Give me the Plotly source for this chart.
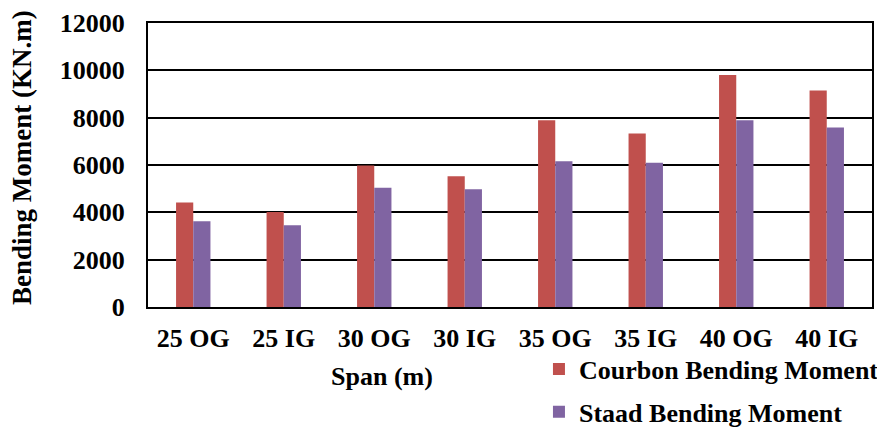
import plotly.graph_objects as go

categories = ["25 OG", "25 IG", "30 OG", "30 IG", "35 OG", "35 IG", "40 OG", "40 IG"]
courbon = [4420, 4010, 5980, 5520, 7890, 7330, 9800, 9150]
staad = [3620, 3450, 5040, 4980, 6160, 6090, 7890, 7580]
yticks = [0, 2000, 4000, 6000, 8000, 10000, 12000]

font_family = "Liberation Serif"
FS = 26

fig = go.Figure()
fig.add_trace(go.Bar(x=categories, y=courbon, name="<b>Courbon Bending Moment</b>",
                     marker=dict(color="#C0504D", line=dict(width=0)), legendgroup="a"))
fig.add_trace(go.Bar(x=categories, y=staad, name="<b>Staad Bending Moment</b>",
                     marker=dict(color="#8064A2", line=dict(width=0)), legendgroup="b"))

fig.update_layout(
    width=877, height=419,
    margin=dict(l=140, r=13, t=15, b=120, autoexpand=False),
    paper_bgcolor="white", plot_bgcolor="white",
    barmode="group", bargap=0.62, bargroupgap=0,
    font=dict(family=font_family, color="black", size=FS),
    legend=dict(x=0.54, y=-0.136, xanchor="left", yanchor="top",
                font=dict(size=FS, family=font_family, color="black"),
                tracegroupgap=6, itemwidth=30, bgcolor="rgba(0,0,0,0)"),
    xaxis=dict(showline=True, linecolor="black", linewidth=2, mirror=True,
               ticks="", tickfont=dict(size=FS, family=font_family),
               ticklabelstandoff=7,
               tickvals=categories, ticktext=["<b>%s</b>" % c for c in categories]),
    yaxis=dict(range=[0, 12000], tickvals=yticks,
               ticktext=["<b>%d</b>" % v for v in yticks],
               showline=True, linecolor="black", linewidth=2, mirror=True,
               showgrid=True, gridcolor="black", gridwidth=2,
               ticks="", ticklabelstandoff=16,
               tickfont=dict(size=FS, family=font_family),
               zeroline=False),
    annotations=[
        dict(text="<b>Span (m)</b>", xref="paper", yref="paper",
             x=(382 - 148) / 724, y=-(377 - 307) / 284,
             xanchor="center", yanchor="middle", showarrow=False,
             font=dict(size=FS, family=font_family, color="black")),
        dict(text="<b>Bending Moment (KN.m)</b>", xref="paper", yref="paper",
             x=(22 - 148) / 724, y=(307 - 158) / 284, textangle=-90,
             xanchor="center", yanchor="middle", showarrow=False,
             font=dict(size=27, family=font_family, color="black")),
    ],
)

fig.write_html("out.html")
